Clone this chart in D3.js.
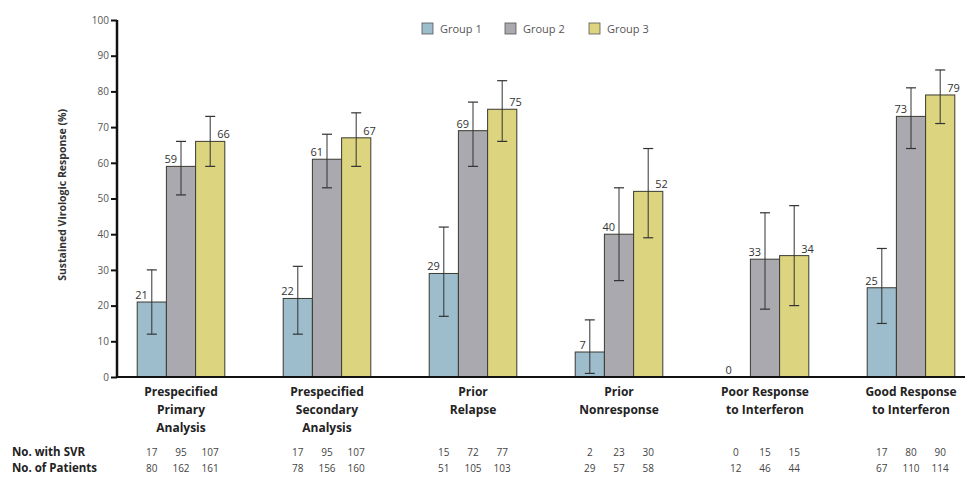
<!DOCTYPE html>
<html>
<head>
<meta charset="utf-8">
<script src="https://cdn.jsdelivr.net/npm/d3@7"></script>
<style>
  body { margin: 0; background: #fff; }
  text { font-family: "Open Sans", "DejaVu Sans", sans-serif; }
</style>
</head>
<body>
<div id="container"></div>
<script>
let w = 967;
let h = 477;

// data
let categories = [
  ["Prespecified", "Primary", "Analysis"],
  ["Prespecified", "Secondary", "Analysis"],
  ["Prior", "Relapse"],
  ["Prior", "Nonresponse"],
  ["Poor Response", "to Interferon"],
  ["Good Response", "to Interferon"]
];
let groups = ["Group 1", "Group 2", "Group 3"];
let group1 = [21, 22, 29, 7, 0, 25];
let group2 = [59, 61, 69, 40, 33, 73];
let group3 = [66, 67, 75, 52, 34, 79];
// 95% CI (low, high); null = not drawn
let ci1 = [[12, 30], [12, 31], [17, 42], [1, 16], null, [15, 36]];
let ci2 = [[51, 66], [53, 68], [59, 77], [27, 53], [19, 46], [64, 81]];
let ci3 = [[59, 73], [59, 74], [66, 83], [39, 64], [20, 48], [71, 86]];
let svr1 = [17, 17, 15, 2, 0, 17];
let svr2 = [95, 95, 72, 23, 15, 80];
let svr3 = [107, 107, 77, 30, 15, 90];
let pts1 = [80, 78, 51, 29, 12, 67];
let pts2 = [162, 156, 105, 57, 46, 110];
let pts3 = [161, 160, 103, 58, 44, 114];
let yTicks = [0, 10, 20, 30, 40, 50, 60, 70, 80, 90, 100];

let colors = ["#9dbdcd", "#a9a9af", "#dcd47f"];

let viz = d3.select("#container")
  .append("svg")
    .attr("width", w)
    .attr("height", h)
    .style("background-color", "white")
;

let axisX = 117;
let yScale = d3.scaleLinear().domain([0, 100]).range([377, 20]);
let xScale = d3.scaleBand().domain(d3.range(categories.length)).range([108, 984]).paddingInner(0.4).paddingOuter(0.2);
let xSub = d3.scaleBand().domain(d3.range(groups.length)).range([0, xScale.bandwidth()]);

// one record per bar
let bars = [];
let series = [group1, group2, group3];
let cis = [ci1, ci2, ci3];
let svrs = [svr1, svr2, svr3];
let ptss = [pts1, pts2, pts3];
categories.forEach(function(c, i){
  series.forEach(function(s, g){
    bars.push({cat: i, g: g, value: s[i], ci: cis[g][i], svr: svrs[g][i], pts: ptss[g][i]});
  });
});

function barX(d){ return xScale(d.cat) + xSub(d.g); }
function barCenter(d){ return barX(d) + xSub.bandwidth() / 2; }

// y axis
let yAxis = d3.axisLeft(yScale).tickValues(yTicks).tickSize(6).tickPadding(2);
let yG = viz.append("g")
  .attr("transform", "translate(" + axisX + ",0)")
  .call(yAxis);
yG.select(".domain").attr("stroke", "#111").attr("stroke-width", 2.5).attr("d", "M0," + yScale(100) + "V" + yScale(0));
yG.selectAll(".tick line").attr("stroke", "#111").attr("stroke-width", 2);
yG.selectAll(".tick text").attr("fill", "#555").style("font-size", "10px").style("font-family", "'Liberation Sans Narrow', 'Open Sans', sans-serif");

viz.append("text")
  .text("Sustained Virologic Response (%)")
  .attr("transform", "translate(66," + yScale(51) + ") rotate(-90)")
  .attr("text-anchor", "middle")
  .attr("fill", "#333")
  .style("font-size", "10.5px")
  .style("font-weight", "bold");

// bars
let bg = viz.selectAll(".bar").data(bars).enter()
  .append("g")
    .classed("bar", true);

bg.filter(function(d){ return d.value > 0; })
  .append("rect")
    .attr("x", barX)
    .attr("y", function(d){ return yScale(d.value); })
    .attr("width", xSub.bandwidth())
    .attr("height", function(d){ return yScale(0) - yScale(d.value); })
    .attr("fill", function(d){ return colors[d.g]; })
    .attr("stroke", "#3a3a30")
    .attr("stroke-width", 1);

// error bars
let eb = bg.filter(function(d){ return d.ci; });
eb.append("line")
    .attr("x1", barCenter).attr("x2", barCenter)
    .attr("y1", function(d){ return yScale(d.ci[0]); })
    .attr("y2", function(d){ return yScale(d.ci[1]); })
    .attr("stroke", "#333").attr("stroke-width", 1);
eb.append("line")
    .attr("x1", function(d){ return barCenter(d) - 5; })
    .attr("x2", function(d){ return barCenter(d) + 5; })
    .attr("y1", function(d){ return yScale(d.ci[1]); })
    .attr("y2", function(d){ return yScale(d.ci[1]); })
    .attr("stroke", "#333").attr("stroke-width", 1.2);
eb.append("line")
    .attr("x1", function(d){ return barCenter(d) - 5; })
    .attr("x2", function(d){ return barCenter(d) + 5; })
    .attr("y1", function(d){ return yScale(d.ci[0]); })
    .attr("y2", function(d){ return yScale(d.ci[0]); })
    .attr("stroke", "#333").attr("stroke-width", 1.2);

// value labels
bg.append("text")
    .text(function(d){ return d.value; })
    .attr("x", function(d){ return d.g == 2 ? barCenter(d) + 7 : barCenter(d) - 4; })
    .attr("y", function(d){ return yScale(d.value) - 3; })
    .attr("text-anchor", function(d){ return d.g == 2 ? "start" : "end"; })
    .attr("fill", "#333")
    .style("font-size", "11px");

// baseline
viz.append("line")
  .attr("x1", axisX).attr("x2", 965)
  .attr("y1", yScale(0)).attr("y2", yScale(0))
  .attr("stroke", "#111").attr("stroke-width", 2);

// category labels
let cl = viz.selectAll(".catlabel").data(categories).enter()
  .append("text")
    .classed("catlabel", true)
    .attr("text-anchor", "middle")
    .attr("fill", "#222")
    .style("font-size", "12px")
    .style("font-weight", "bold");
cl.selectAll("tspan").data(function(d, i){ return d.map(function(t){ return {t: t, i: i}; }); }).enter()
  .append("tspan")
    .text(function(d){ return d.t; })
    .attr("x", function(d){ return xScale(d.i) + xScale.bandwidth() / 2; })
    .attr("y", function(d, j){ return 396 + j * 18; });

// table rows
viz.append("text").text("No. with SVR")
  .attr("x", 12).attr("y", 456)
  .attr("fill", "#222").style("font-size", "11.5px").style("font-weight", "bold");
viz.append("text").text("No. of Patients")
  .attr("x", 12).attr("y", 472)
  .attr("fill", "#222").style("font-size", "11.5px").style("font-weight", "bold");

bg.append("text")
    .text(function(d){ return d.svr; })
    .attr("x", barCenter).attr("y", 456)
    .attr("text-anchor", "middle")
    .attr("fill", "#444").style("font-size", "10px");
bg.append("text")
    .text(function(d){ return d.pts; })
    .attr("x", barCenter).attr("y", 472)
    .attr("text-anchor", "middle")
    .attr("fill", "#444").style("font-size", "10px");

// legend
let legX = [422, 505, 589];
let lg = viz.selectAll(".legend").data(groups).enter()
  .append("g")
    .classed("legend", true)
    .attr("transform", function(d, i){ return "translate(" + legX[i] + ",23)"; });
lg.append("rect")
    .attr("width", 11).attr("height", 11)
    .attr("fill", function(d, i){ return colors[i]; })
    .attr("stroke", "#555").attr("stroke-width", 0.8);
lg.append("text")
    .text(function(d){ return d; })
    .attr("x", 18).attr("y", 10)
    .attr("fill", "#555")
    .style("font-size", "11px");
</script>
</body>
</html>
